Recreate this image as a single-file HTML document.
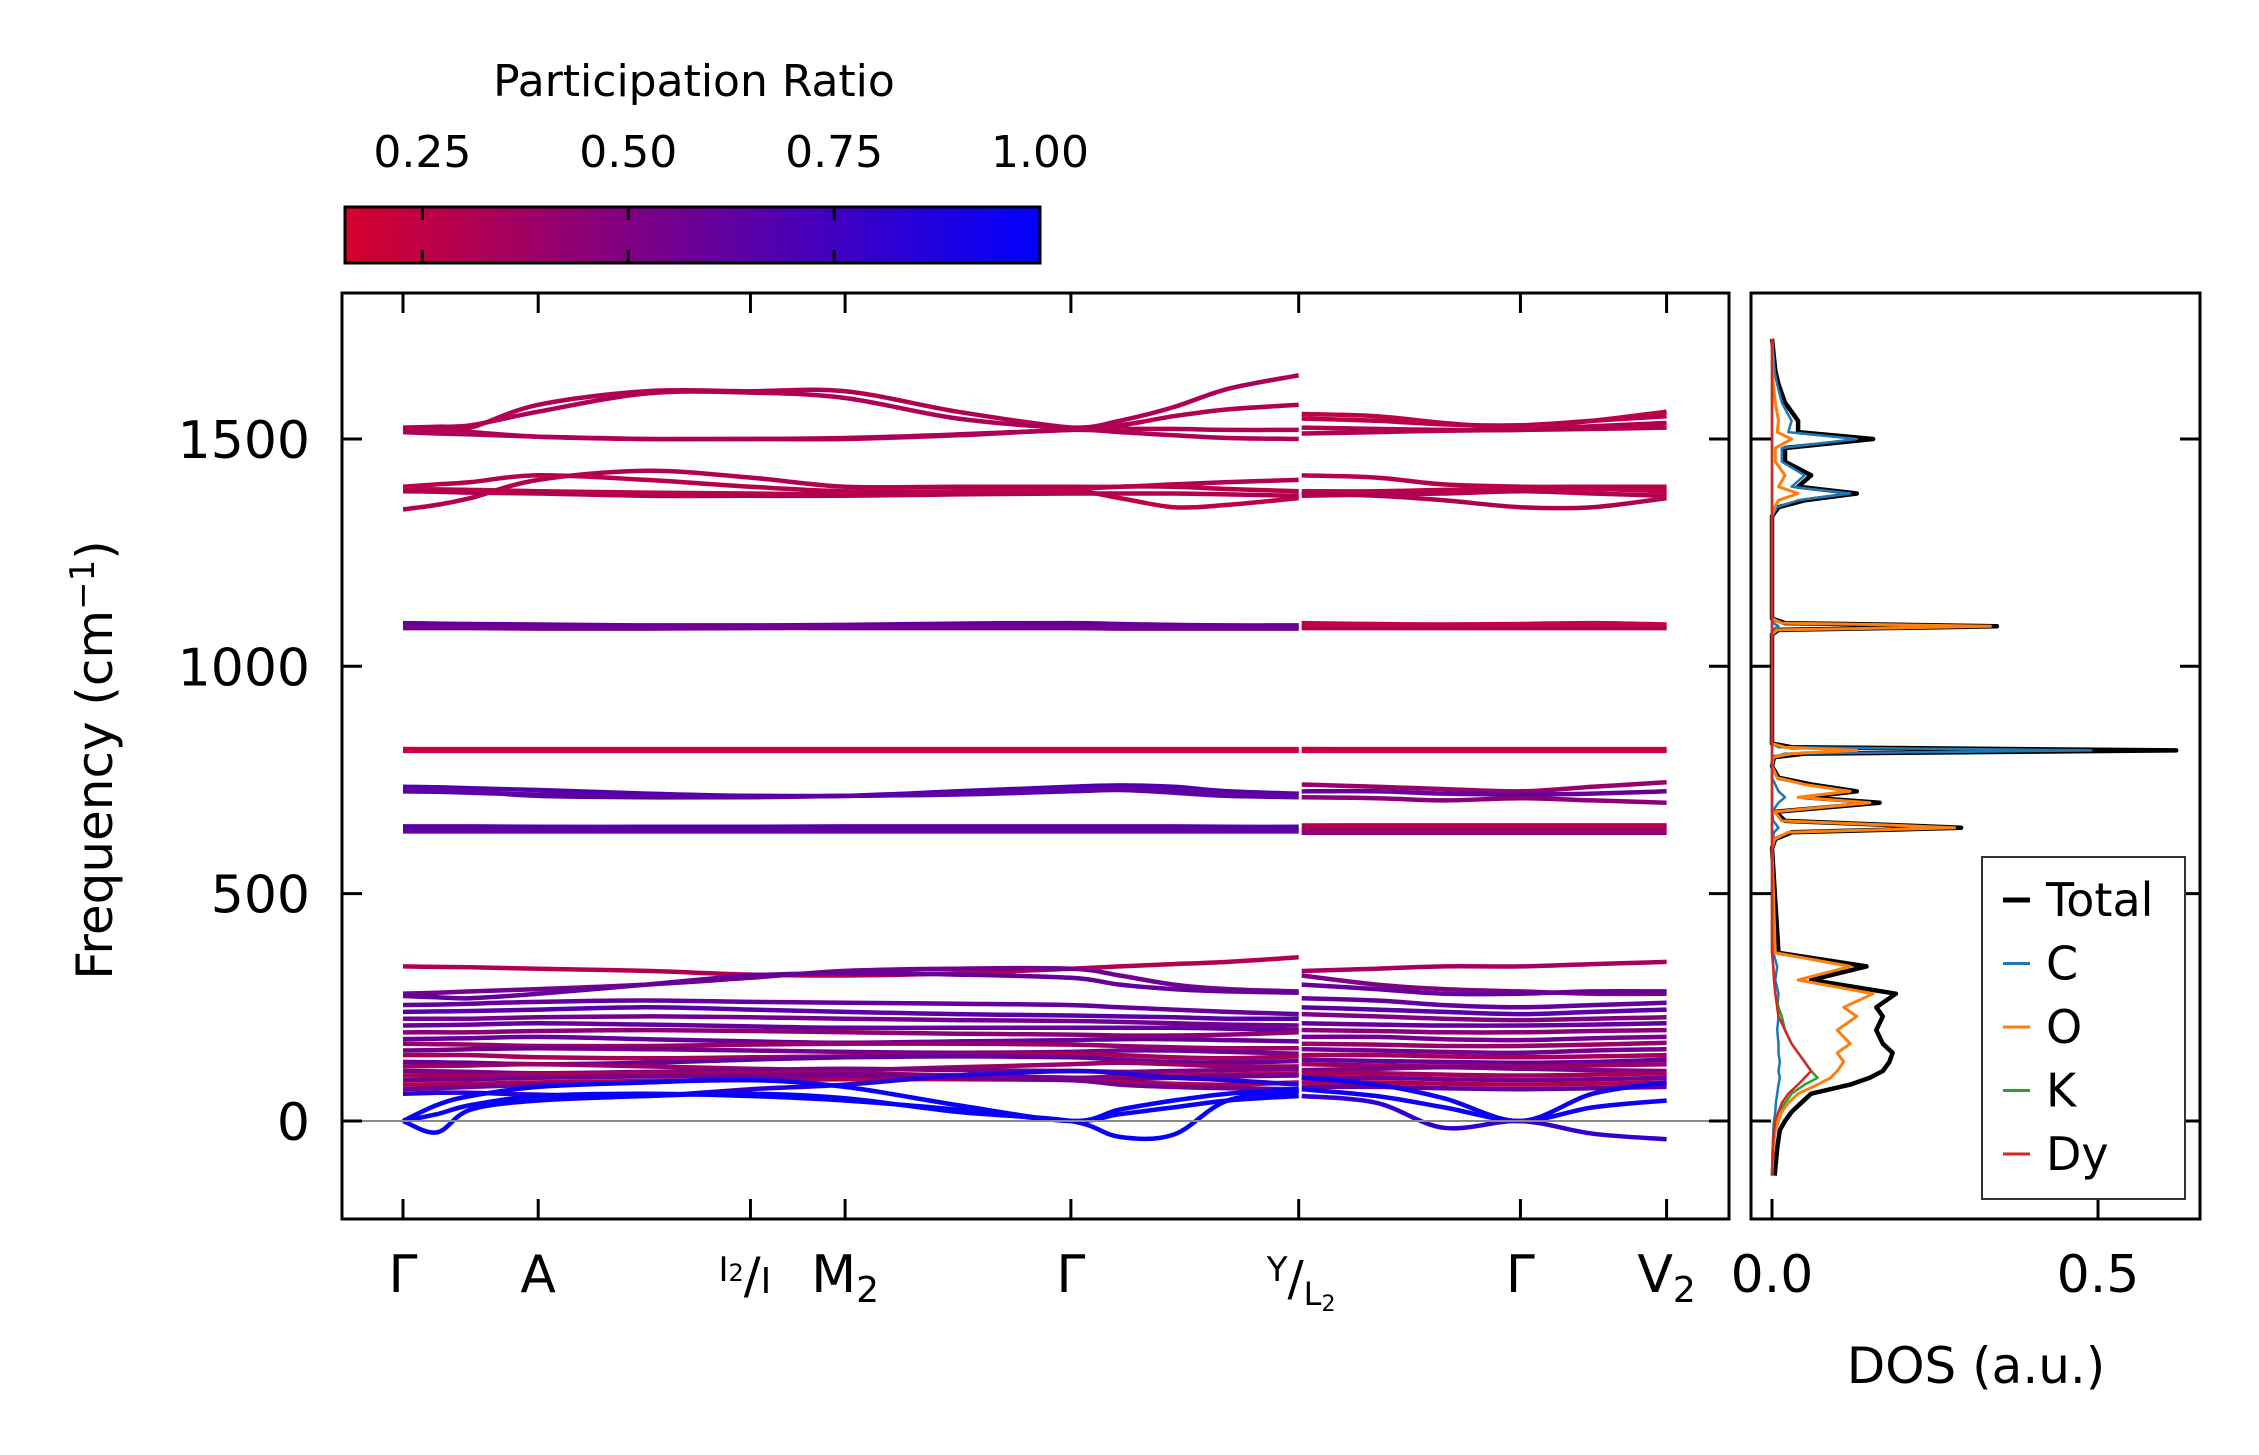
<!DOCTYPE html>
<html><head><meta charset="utf-8"><style>
html,body{margin:0;padding:0;background:#fff}
svg{display:block}
text{font-family:"DejaVu Sans","Liberation Sans",sans-serif;fill:#000}
</style></head><body>
<svg id="fig" width="2259" height="1455" viewBox="0 0 2259 1455" xmlns="http://www.w3.org/2000/svg">
<defs>
<linearGradient id="cbgrad" x1="0" x2="1" y1="0" y2="0">
<stop offset="0" stop-color="rgb(215,0,45)"/><stop offset="1" stop-color="rgb(0,0,255)"/>
</linearGradient>
<clipPath id="mainclip"><rect x="342" y="293" width="1387" height="926"/></clipPath>
<clipPath id="dosclip"><rect x="1751" y="293" width="449" height="926"/></clipPath>
</defs>
<g id="colorbar">
<text x="694" y="96" font-size="44" text-anchor="middle">Participation Ratio</text>
<rect x="345" y="207" width="695" height="56" fill="url(#cbgrad)" stroke="#000" stroke-width="3"/>
<g id="cbticks"></g>
</g>
<g id="main">
<g id="bands" clip-path="url(#mainclip)"></g>
<line x1="342" x2="1729" y1="1121" y2="1121" stroke="#888" stroke-width="2"/>
<rect x="342" y="293" width="1387" height="926" fill="none" stroke="#000" stroke-width="3"/>
<g id="mainticks"></g>
<text transform="translate(112,760) rotate(-90)" font-size="50" text-anchor="middle">Frequency (cm<tspan dy="-18" font-size="34">−1</tspan><tspan dy="18">)</tspan></text>
</g>
<g id="dos">
<g id="doslines" clip-path="url(#dosclip)"></g>
<rect x="1751" y="293" width="449" height="926" fill="none" stroke="#000" stroke-width="3"/>
<g id="dosticks"></g>
<text x="1976" y="1383" font-size="50" text-anchor="middle">DOS (a.u.)</text>
<g id="legend">
<rect x="1982" y="857" width="203" height="342" fill="#fff" stroke="#333" stroke-width="2"/>
</g>
</g>
</svg>
<script>
const cbTicks=[0.25,0.5,0.75,1.0];
const cbTickLabels=["0.25","0.50","0.75","1.00"];
const prMin=0.156, prMax=1.0;
const kTickPos=[0,1,2.57,3.27,4.94,6.625,8.265,9.346];
const kSeg1=[0,0.25,0.5,1,1.8,2.57,3.27,4.1,4.94,5.3,5.7,6.1,6.625];
const kSeg2=[6.625,7.2,7.7,8.265,8.8,9.346];
const freqTicks=[0,500,1000,1500];
const bands1=[
[1525,1527,1530,1560,1600,1602,1590,1545,1525,1540,1570,1610,1640],
[1520,1522,1525,1575,1605,1605,1605,1560,1525,1530,1550,1565,1575],
[1520,1518,1515,1505,1500,1500,1502,1510,1520,1522,1522,1520,1520],
[1515,1512,1510,1505,1500,1500,1500,1508,1520,1515,1508,1502,1500],
[1345,1355,1370,1410,1430,1415,1395,1395,1395,1395,1400,1405,1410],
[1395,1400,1405,1420,1410,1395,1385,1385,1390,1395,1395,1390,1385],
[1390,1389,1388,1385,1382,1380,1378,1382,1385,1370,1350,1355,1370],
[1385,1384,1382,1380,1375,1375,1375,1378,1380,1380,1380,1378,1375],
[1095,1094,1093,1092,1090,1090,1091,1094,1095,1093,1091,1090,1090],
[1088,1088,1088,1087,1087,1088,1088,1088,1088,1087,1087,1087,1086],
[1084,1084,1084,1083,1083,1084,1084,1084,1084,1083,1083,1083,1083],
[818,818,818,818,818,818,818,818,818,818,818,818,818],
[814,814,814,814,814,814,814,814,814,814,814,814,814],
[735,734,732,728,720,715,715,725,735,738,735,725,720],
[725,724,722,718,715,715,715,720,730,732,728,722,718],
[730,728,725,715,712,712,715,718,725,728,722,715,712],
[648,648,648,647,647,647,648,648,648,648,648,647,647],
[642,642,642,642,642,642,642,642,642,642,642,642,642],
[637,637,637,637,637,637,637,637,637,637,637,637,637],
[340,339,338,335,330,322,320,325,335,340,345,350,360],
[280,282,285,290,300,315,330,335,335,320,300,290,285],
[275,272,270,280,300,320,325,322,315,300,290,285,282],
[255,256,258,262,265,262,260,258,255,250,245,240,235],
[240,241,242,245,250,245,240,235,232,230,228,225,225],
[225,225,225,228,230,228,225,222,220,218,215,212,210],
[210,211,212,215,212,208,205,205,205,205,205,203,200],
[195,195,195,198,200,198,195,192,190,188,188,190,195],
[180,181,182,185,180,175,172,175,178,180,180,178,175],
[170,169,168,165,165,168,170,170,168,165,162,160,160],
[155,156,158,160,158,155,152,150,152,155,155,152,148],
[145,145,145,140,138,140,142,145,148,145,140,138,142],
[130,129,128,125,128,135,140,142,140,135,130,128,132],
[120,121,122,125,120,115,112,118,125,128,125,120,120],
[110,109,108,105,108,112,115,112,110,108,110,112,115],
[100,100,100,102,105,105,105,100,95,98,100,102,105],
[90,91,92,95,98,100,102,100,95,92,95,98,100],
[80,81,82,85,88,90,92,92,90,85,82,80,85],
[70,72,75,80,85,95,100,95,90,80,75,72,70],
[60,62,62,58,55,70,80,100,110,105,95,90,80],
[0,35,55,75,85,90,75,35,0,25,45,60,70],
[0,15,35,55,60,55,45,25,0,15,30,45,55],
[0,-25,25,45,55,60,50,20,0,-35,-30,45,65]
];
const pr1=[0.32,0.3,0.3,0.32,0.3,0.28,0.26,0.3,0.62,0.58,0.55,0.2,0.22,0.68,0.65,0.62,0.66,0.64,0.62,0.3,0.55,0.6,0.6,0.65,0.55,0.6,0.45,0.6,0.4,0.55,0.35,0.6,0.4,0.5,0.35,0.55,0.3,0.55,0.85,0.97,0.97,0.97];
const bands2=[
[1555,1550,1535,1525,1540,1560],
[1545,1540,1532,1530,1540,1550],
[1525,1522,1520,1520,1528,1535],
[1512,1515,1518,1520,1522,1525],
[1420,1415,1400,1395,1395,1395],
[1385,1385,1388,1390,1390,1385],
[1380,1375,1365,1350,1350,1370],
[1375,1378,1380,1385,1380,1375],
[1095,1093,1092,1093,1095,1092],
[1088,1088,1088,1088,1088,1088],
[1084,1084,1084,1084,1084,1084],
[818,818,818,818,818,818],
[814,814,814,814,814,814],
[740,735,730,725,735,745],
[725,725,720,718,720,725],
[712,710,705,710,705,700],
[650,650,650,650,650,650],
[642,642,642,642,642,642],
[634,634,634,634,634,634],
[330,335,340,340,345,350],
[320,300,290,285,280,280],
[300,290,280,280,285,285],
[270,265,255,250,255,260],
[250,245,240,235,240,245],
[235,230,225,222,225,228],
[215,212,210,210,212,215],
[200,198,195,195,198,200],
[185,185,180,178,182,185],
[170,168,165,165,168,172],
[158,155,152,150,155,158],
[145,145,142,140,142,145],
[135,132,130,128,130,135],
[125,122,120,120,122,125],
[112,115,118,115,112,110],
[105,105,102,100,102,105],
[95,95,92,90,92,95],
[85,85,82,80,82,85],
[75,75,72,70,72,75],
[95,80,50,0,60,85],
[70,55,30,0,30,45],
[55,40,-15,0,-28,-40]
];
const pr2=[0.25,0.28,0.3,0.3,0.28,0.25,0.3,0.3,0.2,0.22,0.3,0.2,0.22,0.4,0.6,0.45,0.3,0.35,0.45,0.35,0.5,0.6,0.6,0.65,0.5,0.6,0.45,0.55,0.4,0.55,0.35,0.6,0.4,0.5,0.35,0.55,0.3,0.6,0.95,0.95,0.8];
const dosFreq=[-120,-60,-20,0,20,40,60,80,95,110,130,150,170,200,230,250,280,310,340,370,600,620,635,645,660,680,700,712,725,740,755,780,800,808,815,822,830,1070,1080,1088,1095,1105,1330,1350,1365,1380,1395,1420,1450,1480,1500,1515,1540,1580,1620,1650,1720];
const dosTotal=[0.004,0.008,0.012,0.02,0.03,0.045,0.06,0.12,0.15,0.17,0.18,0.185,0.17,0.16,0.17,0.16,0.19,0.06,0.145,0.01,0,0.005,0.03,0.29,0.02,0.005,0.165,0.05,0.13,0.06,0.01,0,0.003,0.05,0.62,0.03,0,0,0.01,0.345,0.02,0,0,0.01,0.05,0.13,0.04,0.06,0.02,0.02,0.155,0.04,0.04,0.02,0.01,0.005,0];
const dosO=[0,0.002,0.005,0.01,0.015,0.025,0.04,0.07,0.09,0.1,0.11,0.1,0.12,0.1,0.13,0.11,0.155,0.04,0.12,0.005,0,0.004,0.025,0.28,0.015,0.004,0.15,0.04,0.12,0.05,0.008,0,0.002,0.03,0.13,0.02,0,0,0.008,0.335,0.015,0,0,0.004,0.01,0.04,0.01,0.02,0.005,0.005,0.03,0.008,0.01,0.005,0.002,0.001,0];
const dosC=[0,0.001,0.002,0.003,0.005,0.006,0.008,0.01,0.012,0.01,0.012,0.01,0.01,0.008,0.01,0.008,0.01,0.005,0.008,0.002,0,0.001,0.003,0.01,0.002,0,0.01,0.02,0.01,0.005,0,0,0.002,0.02,0.49,0.01,0,0,0,0.01,0.002,0,0,0.008,0.04,0.12,0.03,0.05,0.015,0.015,0.13,0.025,0.03,0.015,0.008,0.004,0];
const dosK=[0,0.001,0.003,0.005,0.01,0.02,0.03,0.05,0.07,0.06,0.05,0.04,0.03,0.02,0.015,0.01,0.005,0.003,0.002,0,0,0,0,0,0,0,0,0,0,0,0,0,0,0,0,0,0,0,0,0,0,0,0,0,0,0,0,0,0,0,0,0,0,0,0,0,0];
const dosDy=[0,0.001,0.003,0.005,0.01,0.015,0.025,0.04,0.05,0.06,0.05,0.04,0.03,0.02,0.01,0.008,0.005,0.003,0.002,0,0,0,0,0,0,0,0,0,0,0,0,0,0,0,0,0,0,0,0,0,0,0,0,0,0,0,0,0,0,0,0,0,0,0,0,0,0];
const dosTicks=[0,0.5];
const dosTickLabels=["0.0","0.5"];
const legendLabels=["Total","C","O","K","Dy"];
const legendColors=["#000000","#1f77b4","#ff7f0e","#2ca02c","#d62728"];

const NS="http://www.w3.org/2000/svg";
function mk(tag,attrs,parent){const e=document.createElementNS(NS,tag);for(const k in attrs)e.setAttribute(k,attrs[k]);parent.appendChild(e);return e;}
const kx=k=>403+k*135.2;
const fy=f=>1121-f*0.4547;
const dx=v=>1772+v*652;
const cbx=v=>345+(v-prMin)/(prMax-prMin)*695;
function prColor(p){const t=Math.max(0,Math.min(1,(p-prMin)/(prMax-prMin)));return `rgb(${Math.round(215*(1-t))},0,${Math.round(45+210*t)})`;}
function spline(pts){let d=`M${pts[0][0]},${pts[0][1]}`;for(let i=0;i<pts.length-1;i++){const p0=pts[Math.max(0,i-1)],p1=pts[i],p2=pts[i+1],p3=pts[Math.min(pts.length-1,i+2)];const c1=[p1[0]+(p2[0]-p0[0])/6,p1[1]+(p2[1]-p0[1])/6];const c2=[p2[0]-(p3[0]-p1[0])/6,p2[1]-(p3[1]-p1[1])/6];d+=` C${c1[0].toFixed(1)},${c1[1].toFixed(1)} ${c2[0].toFixed(1)},${c2[1].toFixed(1)} ${p2[0].toFixed(1)},${p2[1].toFixed(1)}`;}return d;}

const cbt=document.getElementById('cbticks');
cbTicks.forEach((v,i)=>{const x=cbx(v);
 if(v<1){const t1=mk('line',{x1:x,x2:x,y1:207,y2:220,stroke:'#000','stroke-width':3},cbt);
 
 
 const t2=mk('line',{x1:x,x2:x,y1:250,y2:263,stroke:'#000','stroke-width':3},cbt);
 
 }
 const tl=mk('text',{x:x,y:167,'font-size':44,'text-anchor':'middle'},cbt);tl.textContent=cbTickLabels[i];
 
 
});

const bg=document.getElementById('bands');
bands1.forEach((b,i)=>{const p=mk('path',{d:spline(b.map((f,j)=>[kx(kSeg1[j]),fy(f)])),fill:'none',stroke:prColor(pr1[i]),'stroke-width':4.5},bg);
 
 });
bands2.forEach((b,i)=>{const pts=b.map((f,j)=>[kx(kSeg2[j]),fy(f)]);pts[0][0]+=3;const p=mk('path',{d:spline(pts),fill:'none',stroke:prColor(pr2[i]),'stroke-width':4.5},bg);
 
 });

const mt=document.getElementById('mainticks');
kTickPos.forEach(k=>{const x=kx(k);
 const a=mk('line',{x1:x,x2:x,y1:1219,y2:1199,stroke:'#000','stroke-width':3},mt);
 
 
 const b=mk('line',{x1:x,x2:x,y1:293,y2:313,stroke:'#000','stroke-width':3},mt);
 
 });
freqTicks.forEach(f=>{const y=fy(f);
 const a=mk('line',{x1:342,x2:362,y1:y,y2:y,stroke:'#000','stroke-width':3},mt);
 
 
 const b=mk('line',{x1:1709,x2:1729,y1:y,y2:y,stroke:'#000','stroke-width':3},mt);
 
 
 const t=mk('text',{x:310,y:y+19,'font-size':52,'text-anchor':'end'},mt);t.textContent=String(f);
 
 });
const kLabelHtml=[['Γ',''],['A',''],null,['M','2'],['Γ',''],null,['Γ',''],['V','2']];
kTickPos.forEach((k,i)=>{const x=kx(k);const L=kLabelHtml[i];if(!L)return;
 const t=mk('text',{x:x,y:1292,'font-size':52,'text-anchor':'middle'},mt);
 
 
 t.appendChild(document.createTextNode(L[0]));
 if(L[1]){const s=mk('tspan',{dy:10,'font-size':36},t);s.textContent=L[1];}
});
(function(){const x=kx(kTickPos[2]);const t=mk('text',{x:x-32,y:1281,'font-size':34},mt);
 
 
 t.appendChild(document.createTextNode('I'));const s=mk('tspan',{'font-size':24},t);s.textContent='2';
 const sl=mk('tspan',{dy:12,'font-size':50},t);sl.textContent='/';const s2=mk('tspan',{'font-size':36},t);s2.textContent='I';})();
(function(){const x=kx(kTickPos[5]);const t=mk('text',{x:x-32,y:1281,'font-size':34},mt);
 
 
 t.appendChild(document.createTextNode('Y'));const sl=mk('tspan',{dy:14,'font-size':48},t);sl.textContent='/';
 const s2=mk('tspan',{dy:10,'font-size':32},t);s2.textContent='L';const s3=mk('tspan',{dy:6,'font-size':22},t);s3.textContent='2';})();

const dl=document.getElementById('doslines');
const series=[[dosTotal,'#000000',4.5,'dos-total'],[dosC,'#1f77b4',2.5,'dos-c'],[dosO,'#ff7f0e',3,'dos-o'],[dosK,'#2ca02c',2.5,'dos-k'],[dosDy,'#d62728',2.5,'dos-dy']];
series.forEach(s=>{const pts=s[0].map((v,j)=>`${dx(v).toFixed(1)},${fy(dosFreq[j]).toFixed(1)}`).join(' ');
 const p=mk('polyline',{points:pts,fill:'none',stroke:s[1],'stroke-width':s[2],'stroke-linejoin':'round'},dl);
 
 });
const dt=document.getElementById('dosticks');
dosTicks.forEach((v,i)=>{const x=dx(v);
 const a=mk('line',{x1:x,x2:x,y1:1219,y2:1199,stroke:'#000','stroke-width':3},dt);
 
 
 const t=mk('text',{x:x,y:1292,'font-size':52,'text-anchor':'middle'},dt);t.textContent=dosTickLabels[i];
 
 });
freqTicks.forEach(f=>{const y=fy(f);
 const a=mk('line',{x1:1751,x2:1771,y1:y,y2:y,stroke:'#000','stroke-width':3},dt);
 
 
 const b=mk('line',{x1:2180,x2:2200,y1:y,y2:y,stroke:'#000','stroke-width':3},dt);
 
 });
const lg=document.getElementById('legend');
legendLabels.forEach((lab,i)=>{const y=900+i*63.5;
 const l=mk('line',{x1:2003,x2:2030,y1:y,y2:y,stroke:legendColors[i],'stroke-width':i===0?5:3},lg);
 
 
 const t=mk('text',{x:2046,y:y+16,'font-size':46},lg);t.textContent=lab;
 
 });
</script>
</body></html>
